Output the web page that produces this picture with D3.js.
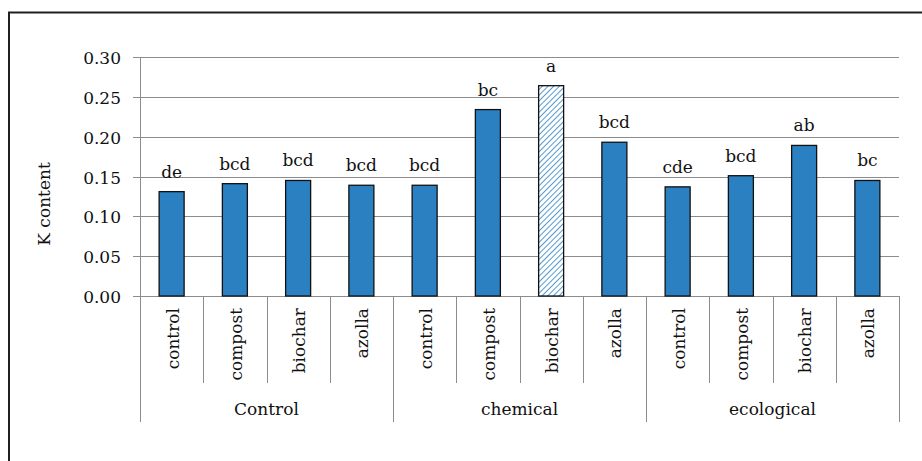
<!DOCTYPE html>
<html><head><meta charset="utf-8">
<script src="https://cdn.jsdelivr.net/npm/d3@7"></script>
<style>body{margin:0;background:#fff}svg{display:block}</style>
</head><body>
<svg id="c" width="922" height="461"></svg>
<script>
const groups = ["Control", "chemical", "ecological"];
const treatments = ["control", "compost", "biochar", "azolla"];
const values = [0.131, 0.141, 0.145, 0.139, 0.139, 0.234, 0.264, 0.193, 0.137, 0.151, 0.189, 0.145];
const letters = ["de", "bcd", "bcd", "bcd", "bcd", "bc", "a", "bcd", "cde", "bcd", "ab", "bc"];
const hatched = [false, false, false, false, false, false, true, false, false, false, false, false];
const yTicks = [0, 0.05, 0.10, 0.15, 0.20, 0.25, 0.30];

const svg = d3.select("#c");
const L = 140, R = 899, T = 57, B = 296;
const FS = 17;
const FF = "DejaVu Serif";
const keys = d3.range(values.length);
const x = d3.scaleBand().domain(keys).range([L, R]).paddingInner(0).paddingOuter(0);
const y = d3.scaleLinear().domain([0, 0.30]).range([B, T]);

// frame
svg.append("path").attr("d", "M9,470 L9,12.5 L930,12.5").attr("fill", "none").attr("stroke", "#231f20").attr("stroke-width", 2);

// pattern
const defs = svg.append("defs");
const pat = defs.append("pattern").attr("id", "hatch").attr("patternUnits", "userSpaceOnUse")
  .attr("width", 4).attr("height", 4).attr("patternTransform", "rotate(45)");
pat.append("rect").attr("width", 4).attr("height", 4).attr("fill", "#fff");
pat.append("line").attr("x1", 0).attr("y1", 0).attr("x2", 0).attr("y2", 4).attr("stroke", "#2b80c2").attr("stroke-width", 1.6);

// gridlines + ticks
svg.append("g").selectAll("line").data(yTicks).join("line")
  .attr("x1", L - 7).attr("x2", R).attr("y1", d => Math.round(y(d)) + 0.5).attr("y2", d => Math.round(y(d)) + 0.5)
  .attr("stroke", "#8c8c8c").attr("stroke-width", 1);
svg.append("g").selectAll("text").data(yTicks).join("text")
  .attr("x", 121).attr("y", d => y(d) + 7).attr("text-anchor", "end").attr("font-family", FF)
  .attr("font-size", FS).attr("fill", "#111").text(d => d3.format(".2f")(d));

// y axis line
svg.append("line").attr("x1", L + 0.5).attr("x2", L + 0.5).attr("y1", T).attr("y2", B).attr("stroke", "#8c8c8c");

// axis title
svg.append("text").attr("transform", `translate(50,204) rotate(-90)`).attr("font-family", FF)
  .attr("text-anchor", "middle").attr("font-size", FS).attr("fill", "#111").text("K content");

// bars
const bw = 25;
svg.append("g").selectAll("rect").data(keys).join("rect")
  .attr("x", i => x(i) + x.bandwidth() / 2 - bw / 2)
  .attr("width", bw)
  .attr("y", i => y(values[i]))
  .attr("height", i => y(0) - y(values[i]))
  .attr("fill", i => hatched[i] ? "url(#hatch)" : "#2b80c2")
  .attr("stroke", "#111").attr("stroke-width", 1.3);

// letters
svg.append("g").selectAll("text").data(keys).join("text")
  .attr("x", i => x(i) + x.bandwidth() / 2)
  .attr("y", i => y(values[i]) - 14).attr("font-family", FF)
  .attr("text-anchor", "middle").attr("font-size", FS).attr("fill", "#111")
  .text(i => letters[i]);

// category dividers
const catLines = d3.range(values.length + 1);
svg.append("g").selectAll("line").data(catLines).join("line")
  .attr("x1", i => i < values.length ? Math.round(x(i)) + 0.5 : R + 0.5)
  .attr("x2", i => i < values.length ? Math.round(x(i)) + 0.5 : R + 0.5)
  .attr("y1", B)
  .attr("y2", i => i % 4 === 0 ? 422 : 383)
  .attr("stroke", "#8c8c8c");

// category labels
svg.append("g").selectAll("text").data(keys).join("text")
  .attr("transform", i => `translate(${x(i) + x.bandwidth() / 2 + 7},308) rotate(-90)`)
  .attr("text-anchor", "end").attr("font-size", FS).attr("fill", "#111").attr("font-family", FF)
  .text(i => treatments[i % 4]);

// group labels
svg.append("g").selectAll("text").data(groups).join("text")
  .attr("x", (g, gi) => (x(gi * 4) + (gi < 2 ? x(gi * 4 + 4) : R)) / 2)
  .attr("y", 415).attr("text-anchor", "middle").attr("font-size", FS).attr("fill", "#111").attr("font-family", FF)
  .text(g => g);
</script>
</body></html>
